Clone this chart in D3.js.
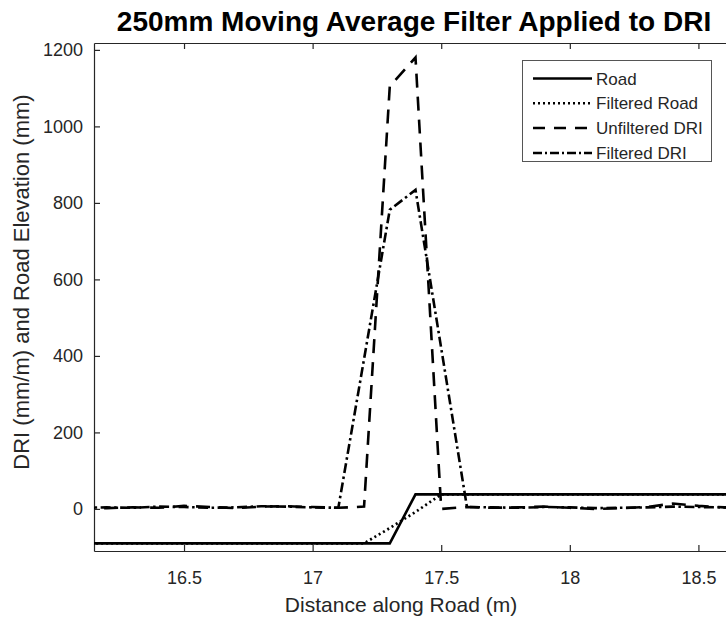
<!DOCTYPE html>
<html>
<head>
<meta charset="utf-8">
<script src="https://cdn.jsdelivr.net/npm/d3@7"></script>
<style>
  html, body { margin: 0; padding: 0; background: #fff; }
  svg { display: block; font-family: "Liberation Sans", Arial, sans-serif; }
</style>
</head>
<body>
<svg id="chart" width="726" height="618"></svg>
<script>
// Sample positions along the road (m), 0.1 m spacing
const distance = [16.1, 16.2, 16.3, 16.4, 16.5, 16.6, 16.7, 16.8, 16.9, 17.0,
                  17.1, 17.2, 17.3, 17.4, 17.5, 17.6, 17.7, 17.8, 17.9, 18.0,
                  18.1, 18.2, 18.3, 18.4, 18.5, 18.6, 18.7];

// Road elevation (mm) and its 250 mm moving average
const road =         [-90, -90, -90, -90, -90, -90, -90, -90, -90, -90,
                      -90, -90, -90, 38, 38, 38, 38, 38, 38, 38,
                      38, 38, 38, 38, 38, 38, 38];
const filteredRoad = [-90, -90, -90, -90, -90, -90, -90, -90, -90, -90,
                      -90, -90, -50, -8, 38, 38, 38, 38, 38, 38,
                      38, 38, 38, 38, 38, 38, 38];

// Dynamic Road Index (mm/m), raw and filtered
const unfilteredDRI = [3, 2, 4, 3, 8, 5, 2, 6, 7, 5,
                       3, 6, 1105, 1180, 0, 5, 3, 4, 6, 3,
                       0, 2, 5, 14, 8, 4, 3];
const filteredDRI =   [3, 4, 3, 6, 5, 3, 4, 7, 6, 4,
                       3, 392, 782, 834, 420, 5, 4, 3, 5, 4,
                       2, 3, 4, 6, 5, 4, 3];

const xTicks = [16.5, 17, 17.5, 18, 18.5];
const yTicks = [0, 200, 400, 600, 800, 1000, 1200];

const seriesNames = ["Road", "Filtered Road", "Unfiltered DRI", "Filtered DRI"];
const seriesValues = [road, filteredRoad, unfilteredDRI, filteredDRI];
const seriesDash = ["none", "2,3", "14,9", "10,3.5,2.5,3.5"];

const svg = d3.select("#chart");
const W = 726, H = 618;
const plot = { left: 94, right: 737, top: 43, bottom: 551 };

svg.append("rect").attr("width", W).attr("height", H).attr("fill", "#fff");

const x = d3.scaleLinear().domain([16.15, 18.65]).range([plot.left, plot.right]);
const y = d3.scaleLinear().domain([-110, 1218]).range([plot.bottom, plot.top]);

svg.append("defs").append("clipPath").attr("id", "plotClip")
  .append("rect")
  .attr("x", plot.left).attr("y", plot.top)
  .attr("width", plot.right - plot.left).attr("height", plot.bottom - plot.top);

const axisColor = "#262626";
const tickLen = 6;

// Axes with inward ticks on all four sides
const gx = svg.append("g").attr("transform", `translate(0,${plot.bottom})`)
  .call(d3.axisBottom(x).tickValues(xTicks).tickSizeInner(-tickLen).tickSizeOuter(0)
    .tickPadding(20).tickFormat(d3.format("")));
const gxTop = svg.append("g").attr("transform", `translate(0,${plot.top})`)
  .call(d3.axisTop(x).tickValues(xTicks).tickSizeInner(-tickLen).tickSizeOuter(0)
    .tickFormat(() => ""));
const gy = svg.append("g").attr("transform", `translate(${plot.left},0)`)
  .call(d3.axisLeft(y).tickValues(yTicks).tickSizeInner(-tickLen).tickSizeOuter(0)
    .tickPadding(11).tickFormat(d3.format("")));
const gyRight = svg.append("g").attr("transform", `translate(${plot.right},0)`)
  .call(d3.axisRight(y).tickValues(yTicks).tickSizeInner(-tickLen).tickSizeOuter(0)
    .tickFormat(() => ""));

[gx, gxTop, gy, gyRight].forEach(g => {
  g.selectAll("path.domain").attr("stroke", axisColor).attr("stroke-width", 1.2);
  g.selectAll(".tick line").attr("stroke", axisColor).attr("stroke-width", 1.2);
  g.selectAll(".tick text").attr("fill", axisColor)
    .attr("font-size", 18).attr("font-family", "Liberation Sans, Arial, sans-serif");
});

// Data lines
const line = (vals) => d3.line()
  .x((d, i) => x(distance[i]))
  .y((d) => y(d))(vals);

const lines = svg.append("g").attr("clip-path", "url(#plotClip)");
seriesValues.forEach((vals, k) => {
  lines.append("path")
    .attr("d", line(vals))
    .attr("fill", "none")
    .attr("stroke", "#000")
    .attr("stroke-width", k === 1 ? 2.7 : 2.6)
    .attr("stroke-dasharray", seriesDash[k])
    .attr("stroke-linejoin", "miter");
});

// Title and axis labels
svg.append("text")
  .attr("x", 414).attr("y", 31)
  .attr("text-anchor", "middle")
  .attr("font-size", 28).attr("font-weight", "bold").attr("fill", "#000")
  .text("250mm Moving Average Filter Applied to DRI");

svg.append("text")
  .attr("x", 401).attr("y", 612)
  .attr("text-anchor", "middle")
  .attr("font-size", 21).attr("fill", axisColor)
  .text("Distance along Road (m)");

svg.append("text")
  .attr("transform", `translate(29,282) rotate(-90)`)
  .attr("text-anchor", "middle")
  .attr("font-size", 22).attr("fill", axisColor)
  .text("DRI (mm/m) and Road Elevation (mm)");

// Legend
const lg = svg.append("g");
lg.append("rect")
  .attr("x", 522.5).attr("y", 60.5).attr("width", 189).attr("height", 101)
  .attr("fill", "#fff").attr("stroke", "#555").attr("stroke-width", 1);
seriesNames.forEach((name, k) => {
  const yy = 78.5 + k * 24.8;
  lg.append("line")
    .attr("x1", 533).attr("x2", 592).attr("y1", yy).attr("y2", yy)
    .attr("stroke", "#000").attr("stroke-width", 2.5)
    .attr("stroke-dasharray", k === 2 ? "12,9" : (k === 3 ? "9,3,2,3" : seriesDash[k]));
  lg.append("text")
    .attr("x", 596).attr("y", yy + 6)
    .attr("font-size", 17).attr("fill", axisColor)
    .text(name);
});
</script>
</body>
</html>
